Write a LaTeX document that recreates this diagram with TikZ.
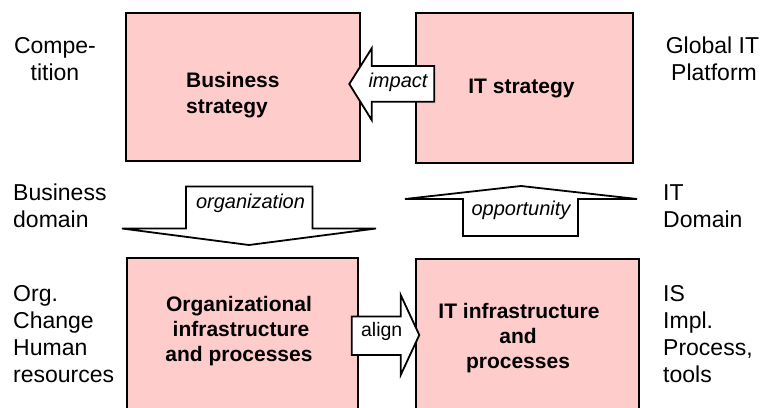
\documentclass[tikz,border=0pt]{standalone}
\usepackage{fontspec}
\setmainfont{Liberation Sans}
\definecolor{boxpink}{RGB}{255,204,204}
\tikzset{
  pinkbox/.style={draw=black, line width=2pt, fill=boxpink},
  blockarrow/.style={draw=black, line width=1.8pt, fill=white, line join=miter},
  side/.style={inner sep=0pt, font=\fontsize{23}{27}\selectfont},
  boxtext/.style={inner sep=0pt, font=\fontsize{21}{25}\selectfont\bfseries},
  arrowlabel/.style={inner sep=0pt, font=\fontsize{20}{24}\selectfont\itshape},
  plainlabel/.style={inner sep=0pt, font=\fontsize{19.5}{23}\selectfont},
}
\begin{document}
\begin{tikzpicture}[x=1pt,y=-1pt]
\clip (0,0) rectangle (763,407);
\fill[white] (0,0) rectangle (763,407);

% boxes
\draw[pinkbox] (126,12.7) rectangle (360,161);
\draw[pinkbox] (416,12.7) rectangle (632.7,163.3);
\draw[pinkbox] (126.5,257.5) rectangle (358,430);
\draw[pinkbox] (416,258.5) rectangle (639,430);

% block arrows
\draw[blockarrow] (434.3,66) -- (371.7,66) -- (371.7,48.3) -- (349.3,84) -- (371.7,120) -- (371.7,101.7) -- (434.3,101.7) -- cycle;
\draw[blockarrow] (186,186.5) -- (312.5,186.5) -- (312.5,228.5) -- (376,228.5) -- (249,245) -- (122,228.5) -- (186,228.5) -- cycle;
\draw[blockarrow] (463,236) -- (463,199) -- (405,199) -- (521,186) -- (637,199) -- (578,199) -- (578,236) -- cycle;
\draw[blockarrow] (351.7,316.5) -- (400.7,316.5) -- (400.7,295) -- (419.3,335) -- (400.7,375) -- (400.7,355) -- (351.7,355) -- cycle;

% arrow labels
\node[arrowlabel, anchor=base] (limpact) at (398,87.5) {impact};
\node[arrowlabel, anchor=base] (lorg) at (250.5,208.3) {organization};
\node[arrowlabel, anchor=base] (lopp) at (521,215) {opportunity};
\node[plainlabel, anchor=base] (lalign) at (381.7,336.7) {align};

% box texts
\node[boxtext, anchor=base west] (bs1) at (186,87.3) {Business};
\node[boxtext, anchor=base west] (bs2) at (186,113) {strategy};
\node[boxtext, anchor=base] (its) at (521.5,93.5) {IT strategy};
\node[boxtext, anchor=base] (oi1) at (239,311.5) {Organizational};
\node[boxtext, anchor=base] (oi2) at (241,336.5) {infrastructure};
\node[boxtext, anchor=base] (oi3) at (239,361.5) {and processes};
\node[boxtext, anchor=base] (ii1) at (519,318) {IT infrastructure};
\node[boxtext, anchor=base] (ii2) at (518,343) {and};
\node[boxtext, anchor=base] (ii3) at (518,368) {processes};

% left column
\node[side, anchor=base] (l1) at (55,53) {Compe-};
\node[side, anchor=base] (l2) at (55,80) {tition};
\node[side, anchor=base west] (l3) at (13,200.7) {Business};
\node[side, anchor=base west] (l4) at (13,227.3) {domain};
\node[side, anchor=base west] (l5) at (13,301) {Org.};
\node[side, anchor=base west] (l6) at (13,328.5) {Change};
\node[side, anchor=base west] (l7) at (13,355.5) {Human};
\node[side, anchor=base west] (l8) at (13,382.5) {resources};

% right column
\node[side, anchor=base] (r1) at (712.5,53) {Global IT};
\node[side, anchor=base] (r2) at (714,80) {Platform};
\node[side, anchor=base west] (r3) at (663,200.7) {IT};
\node[side, anchor=base west] (r4) at (663,227.3) {Domain};
\node[side, anchor=base west] (r5) at (663,301) {IS};
\node[side, anchor=base west] (r6) at (663,328.5) {Impl.};
\node[side, anchor=base west] (r7) at (663,355.5) {Process,};
\node[side, anchor=base west] (r8) at (663,382.5) {tools};
\end{tikzpicture}
\end{document}
